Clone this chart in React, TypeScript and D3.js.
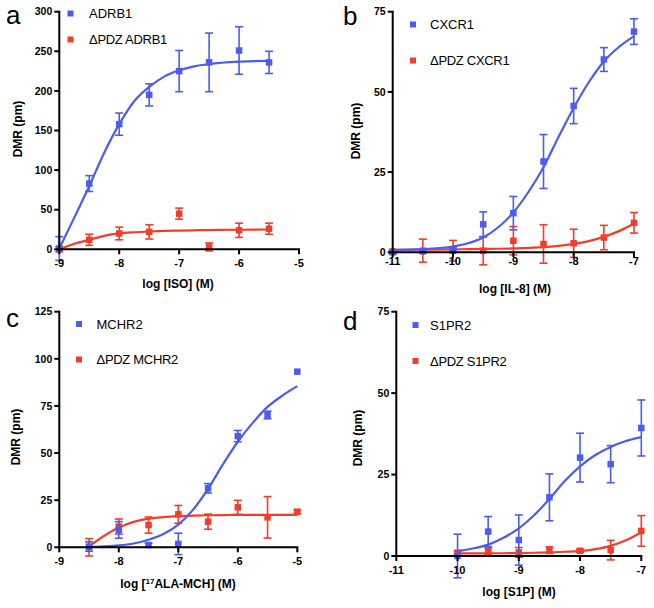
import React from 'react';
import * as d3 from 'd3';

// ---------- Panel a (ADRB1, ISO) ----------
const aX = [-9, -8.5, -8, -7.5, -7, -6.5, -6, -5.5];
const aWt = [1, 83, 158, 195, 225, 236, 251, 236];
const aWtErr = [15, 10, 14, 14, 26, 37, 30, 14];
const aPdz = [0, 12, 20, 22, 45, 3, 24, 26];
const aPdzErr = [3, 7, 8, 9, 7, 5, 9, 7];
const aCurveX = [-9, -8.75, -8.5, -8.25, -8, -7.75, -7.5, -7.25, -7, -6.75, -6.5, -6, -5.5];
const aWtCurve = [1, 40, 80, 122, 158, 187, 205, 218, 226, 231, 234, 237, 238];
const aPdzCurve = [0, 7, 12, 17, 20, 21.5, 22.5, 23.2, 23.7, 24, 24.3, 24.7, 25];
const aXTicks = [-9, -8, -7, -6, -5];
const aYTicks = [0, 50, 100, 150, 200, 250, 300];

// ---------- Panel b (CXCR1, IL-8) ----------
const bX = [-11, -10.5, -10, -9.5, -9, -8.5, -8, -7.5, -7];
const bWt = [0, 0.3, 0.8, 8.7, 12.2, 28.3, 45.6, 60.1, 68.8];
const bWtErr = [0.5, 0.5, 0.5, 3.9, 5.2, 8.4, 5.5, 3.7, 4];
const bPdz = [0.3, 0.5, 0.5, 0.5, 3.6, 2.6, 2.8, 4.6, 9.2];
const bPdzErr = [0.5, 3.6, 3.2, 4.4, 4.4, 6, 4.4, 3.8, 3.2];
const bCurveX = [-11, -10.5, -10, -9.75, -9.5, -9.25, -9, -8.75, -8.5, -8.25, -8, -7.75, -7.5, -7.25, -7];
const bWtCurve = [0.7, 1.0, 1.8, 2.8, 4.6, 7.8, 12.4, 18.8, 26.5, 36, 45, 53, 59.5, 64, 67.4];
const bPdzCurve = [0.8, 0.85, 0.9, 1.0, 1.05, 1.1, 1.2, 1.4, 1.6, 2.0, 2.6, 3.5, 4.8, 6.6, 9.0];
const bXTicks = [-11, -10, -9, -8, -7];
const bYTicks = [0, 25, 50, 75];

// ---------- Panel c (MCHR2, 17ALA-MCH) ----------
const cX = [-8.5, -8, -7.5, -7, -6.5, -6, -5.5, -5];
const cWt = [0.4, 9.2, 1.2, 1.8, 31.3, 59, 70.2, 93.2];
const cWtErr = [2.5, 4.4, 1, 5.7, 2.5, 3, 2, 0];
const cPdz = [0, 11, 11.8, 17.5, 13.6, 21.2, 15.9, 18.9];
const cPdzErr = [4.6, 4, 4.3, 4.7, 4, 3.7, 11, 1];
const cCurveX = [-8.5, -8.25, -8, -7.75, -7.5, -7.25, -7, -6.75, -6.5, -6.25, -6, -5.75, -5.5, -5.25, -5];
const cWtCurve = [0.2, 0.5, 1.0, 2.0, 4, 7, 12, 20, 31, 44, 56, 66, 74.5, 80.5, 85.5];
const cPdzCurve = [0.5, 6, 10.5, 13.5, 15.2, 16, 16.5, 16.8, 17, 17.1, 17.2, 17.2, 17.2, 17.2, 17.2];
const cXTicks = [-9, -8, -7, -6, -5];
const cYTicks = [0, 25, 50, 75, 100, 125];

// ---------- Panel d (S1PR2, S1P) ----------
const dX = [-10, -9.5, -9, -8.5, -8, -7.5, -7];
const dWt = [0, 7.5, 4.9, 18, 30.2, 28.2, 39.3];
const dWtErr = [6.7, 4.6, 7.7, 7.2, 7.5, 5.7, 8.6];
const dPdz = [1, 1.5, 1.1, 1.8, 1.6, 1.8, 7.7];
const dPdzErr = [0.5, 1, 1.5, 1, 0.5, 3, 4.7];
const dCurveX = [-10, -9.75, -9.5, -9.25, -9, -8.75, -8.5, -8.25, -8, -7.75, -7.5, -7.25, -7];
const dWtCurve = [1.5, 2.3, 3.5, 5.6, 8.5, 12.5, 17.5, 23, 27.5, 31, 33.5, 35.3, 36.5];
const dPdzCurve = [0.8, 0.8, 0.85, 0.85, 0.9, 1.0, 1.1, 1.3, 1.5, 2.1, 3.1, 4.8, 7.3];
const dXTicks = [-11, -10, -9, -8, -7];
const dYTicks = [0, 25, 50, 75];

const legendWt = ['ADRB1', 'CXCR1', 'MCHR2', 'S1PR2'];
const legendPdz = ['ΔPDZ ADRB1', 'ΔPDZ CXCR1', 'ΔPDZ MCHR2', 'ΔPDZ S1PR2'];
const panelLetters = ['a', 'b', 'c', 'd'];

const BLUE = '#4a5cf1';
const RED = '#f23d29';
const FONT = '"Liberation Sans", Arial, Helvetica, sans-serif';

type Series = { x: number[]; y: number[]; err: number[]; cx: number[]; cy: number[] };

type PanelCfg = {
  letter: string;
  letterPos: [number, number];
  xr: [number, number];
  yr: [number, number];
  xDomain: [number, number];
  yDomain: [number, number];
  xTicks: number[];
  yTicks: number[];
  xLabelOffset: number;
  xTitle: React.ReactNode;
  xTitlePos: [number, number];
  yTitlePos: [number, number];
  legendPos: [number, number, number];
  legendTextX: number;
  wtName: string;
  pdzName: string;
  wt: Series;
  pdz: Series;
};

const panels: PanelCfg[] = [
  {
    letter: panelLetters[0], letterPos: [6, 24],
    xr: [59.3, 299], yr: [249.3, 11.7], xDomain: [-9, -5], yDomain: [0, 300],
    xTicks: aXTicks, yTicks: aYTicks, xLabelOffset: 18,
    xTitle: 'log [ISO] (M)', xTitlePos: [178, 288], yTitlePos: [18, 129],
    legendPos: [70.5, 13.5, 39.5], legendTextX: 89,
    wtName: legendWt[0], pdzName: legendPdz[0],
    wt: { x: aX, y: aWt, err: aWtErr, cx: aCurveX, cy: aWtCurve },
    pdz: { x: aX, y: aPdz, err: aPdzErr, cx: aCurveX, cy: aPdzCurve },
  },
  {
    letter: panelLetters[1], letterPos: [343, 25],
    xr: [392.7, 634], yr: [252.3, 11.7], xDomain: [-11, -7], yDomain: [0, 75],
    xTicks: bXTicks, yTicks: bYTicks, xLabelOffset: 13,
    xTitle: 'log [IL-8] (M)', xTitlePos: [515, 293], yTitlePos: [356, 131],
    legendPos: [413, 24.5, 60.5], legendTextX: 430,
    wtName: legendWt[1], pdzName: legendPdz[1],
    wt: { x: bX, y: bWt, err: bWtErr, cx: bCurveX, cy: bWtCurve },
    pdz: { x: bX, y: bPdz, err: bPdzErr, cx: bCurveX, cy: bPdzCurve },
  },
  {
    letter: panelLetters[2], letterPos: [6, 327],
    xr: [59.3, 297.3], yr: [547.3, 311.7], xDomain: [-9, -5], yDomain: [0, 125],
    xTicks: cXTicks, yTicks: cYTicks, xLabelOffset: 18,
    xTitle: (
      <>
        log [<tspan fontSize={8} dy={-4}>17</tspan><tspan dy={4}>ALA-MCH] (M)</tspan>
      </>
    ),
    xTitlePos: [178, 588], yTitlePos: [16, 437],
    legendPos: [79, 324, 359.5], legendTextX: 96.5,
    wtName: legendWt[2], pdzName: legendPdz[2],
    wt: { x: cX, y: cWt, err: cWtErr, cx: cCurveX, cy: cWtCurve },
    pdz: { x: cX, y: cPdz, err: cPdzErr, cx: cCurveX, cy: cPdzCurve },
  },
  {
    letter: panelLetters[3], letterPos: [343, 330],
    xr: [396.3, 641.3], yr: [556, 311.7], xDomain: [-11, -7], yDomain: [0, 75],
    xTicks: dXTicks, yTicks: dYTicks, xLabelOffset: 18,
    xTitle: 'log [S1P] (M)', xTitlePos: [519, 596], yTitlePos: [358, 438],
    legendPos: [415.5, 325, 361], legendTextX: 430,
    wtName: legendWt[3], pdzName: legendPdz[3],
    wt: { x: dX, y: dWt, err: dWtErr, cx: dCurveX, cy: dWtCurve },
    pdz: { x: dX, y: dPdz, err: dPdzErr, cx: dCurveX, cy: dPdzCurve },
  },
];

function SeriesMarks({ s, color, xs, ys }: { s: Series; color: string; xs: d3.ScaleLinear<number, number>; ys: d3.ScaleLinear<number, number> }) {
  const line = d3
    .line<number>()
    .x((_, i) => xs(s.cx[i]))
    .y((d) => ys(d))
    .curve(d3.curveMonotoneX);
  const cap = 4;
  const m = 6.5;
  return (
    <g>
      <path d={line(s.cy) || ''} fill="none" stroke={color} strokeWidth={2.2} />
      {s.x.map((xv, i) => {
        const px = xs(xv);
        const py = ys(s.y[i]);
        const e = s.err[i];
        const yt = ys(s.y[i] + e);
        const yb = ys(s.y[i] - e);
        return (
          <g key={i}>
            {e > 0 && (
              <g stroke={color} strokeWidth={1.6}>
                <line x1={px} x2={px} y1={yt} y2={yb} />
                <line x1={px - cap} x2={px + cap} y1={yt} y2={yt} />
                <line x1={px - cap} x2={px + cap} y1={yb} y2={yb} />
              </g>
            )}
            <rect x={px - m / 2} y={py - m / 2} width={m} height={m} fill={color} />
          </g>
        );
      })}
    </g>
  );
}

function Panel({ p }: { p: PanelCfg }) {
  const xs = d3.scaleLinear().domain(p.xDomain).range(p.xr);
  const ys = d3.scaleLinear().domain(p.yDomain).range(p.yr);
  const x0 = p.xr[0];
  const y0 = p.yr[0];
  const tick = 5;
  return (
    <g fontFamily={FONT}>
      <text x={p.letterPos[0]} y={p.letterPos[1]} fontSize={26} fill="#000">
        {p.letter}
      </text>
      <rect x={p.legendPos[0] - 3} y={p.legendPos[1] - 3} width={6} height={6} fill={BLUE} />
      <text x={p.legendTextX} y={p.legendPos[1]} dy="0.35em" fontSize={13} fill="#000">
        {p.wtName}
      </text>
      <rect x={p.legendPos[0] - 3} y={p.legendPos[2] - 3} width={6} height={6} fill={RED} />
      <text x={p.legendTextX} y={p.legendPos[2]} dy="0.35em" fontSize={13} fill="#000" letterSpacing={-0.3}>
        {p.pdzName}
      </text>
      <SeriesMarks s={p.pdz} color={RED} xs={xs} ys={ys} />
      <SeriesMarks s={p.wt} color={BLUE} xs={xs} ys={ys} />
      <g stroke="#000" strokeWidth={2} fill="none">
        <line x1={x0} x2={x0} y1={ys(p.yDomain[1]) - 1} y2={y0 + 1} />
        <line x1={x0 - 1} x2={xs(p.xDomain[1]) + 1} y1={y0} y2={y0} />
        {p.yTicks.map((t) => (
          <line key={'yt' + t} x1={x0 - tick} x2={x0} y1={ys(t)} y2={ys(t)} />
        ))}
        {p.xTicks.map((t) => (
          <line key={'xt' + t} x1={xs(t)} x2={xs(t)} y1={y0} y2={y0 + tick} />
        ))}
      </g>
      {p.yTicks.map((t) => (
        <text key={'yl' + t} x={x0 - 7} y={ys(t)} dy="0.36em" textAnchor="end" fontSize={10.5} fontWeight="bold">
          {t}
        </text>
      ))}
      {p.xTicks.map((t) => (
        <text key={'xl' + t} x={xs(t)} y={y0 + p.xLabelOffset} textAnchor="middle" fontSize={11} fontWeight="bold">
          {t}
        </text>
      ))}
      <text x={p.xTitlePos[0]} y={p.xTitlePos[1]} textAnchor="middle" fontSize={12} fontWeight="bold">
        {p.xTitle}
      </text>
      <text
        transform={`translate(${p.yTitlePos[0]},${p.yTitlePos[1]}) rotate(-90)`}
        textAnchor="middle"
        dy="0.35em"
        fontSize={12}
        fontWeight="bold"
      >
        DMR (pm)
      </text>
    </g>
  );
}

export default function App() {
  return (
    <svg
      width={654}
      height={608}
      viewBox="0 0 654 608"
      style={{ position: 'absolute', left: 0, top: 0, background: '#fff' }}
    >
      <rect x={0} y={0} width={654} height={608} fill="#fff" />
      {panels.map((p) => (
        <Panel key={p.letter} p={p} />
      ))}
    </svg>
  );
}
